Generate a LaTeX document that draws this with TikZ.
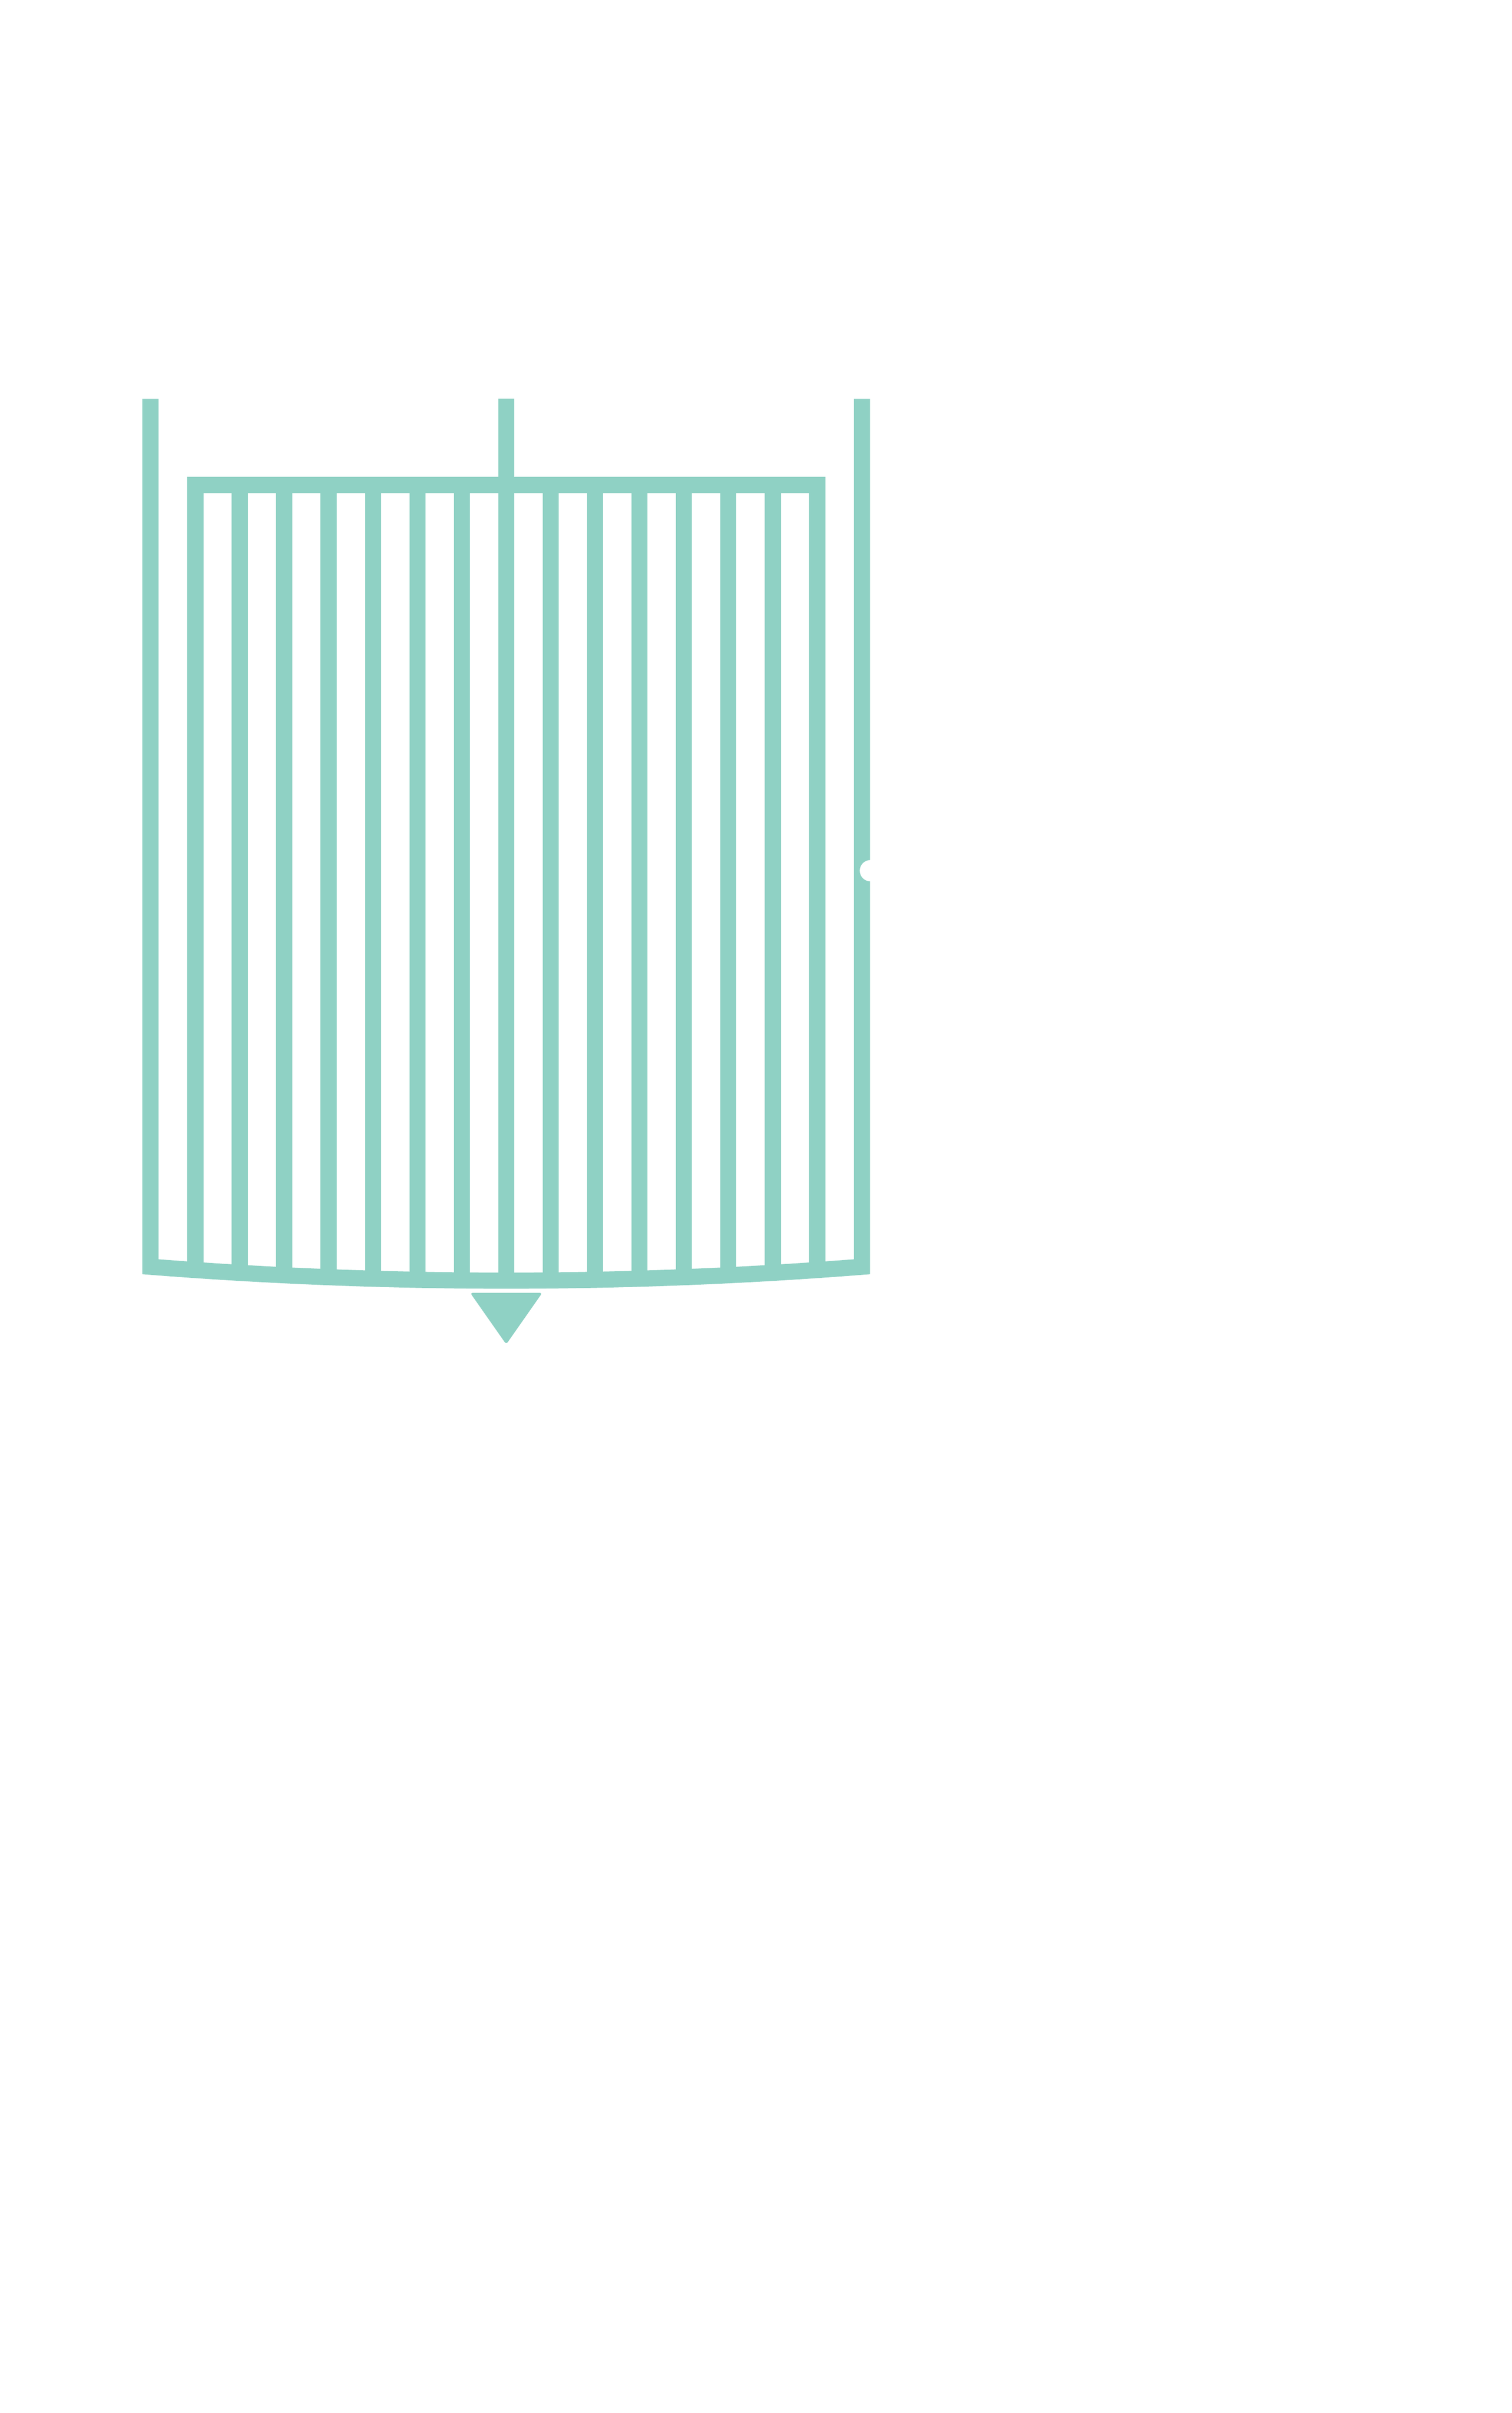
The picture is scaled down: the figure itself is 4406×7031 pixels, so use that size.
\documentclass[tikz,border=0pt]{standalone}
\definecolor{mint}{RGB}{143,209,196}
\begin{document}
\begin{tikzpicture}[x=0.01cm,y=-0.01cm,
  wall/.style={draw=mint,line width=0.47cm,line join=miter,line cap=butt}]
\useasboundingbox (0,0) rectangle (4406,7031);
% outer vessel with curved bottom
\draw[wall] (438.5,1162) -- (438.5,3691)
  .. controls (1129.8,3745) and (1821.2,3745) .. (2512.5,3691) -- (2512.5,1162);
% hanging rods
\foreach \k in {0,...,14}{
  \pgfmathsetmacro\rx{569.5+129.46*\k}
  \pgfmathsetmacro\ry{3691+40.5*(1-((\rx-1475.5)/1037)^2)}
  \draw[wall] (\rx,1413.5) -- (\rx,\ry);
}
% top plate and stem
\draw[wall] (546,1413.5) -- (2405.5,1413.5);
\draw[wall] (1475.5,1162) -- (1475.5,1413.5);
% small notch on right wall
\fill[white] (2537,2537) circle (0.31cm);
% outlet triangle
\fill[mint, rounded corners=2pt] (1370.5,3767) -- (1580.5,3767) -- (1475.5,3917) -- cycle;
\end{tikzpicture}
\end{document}
